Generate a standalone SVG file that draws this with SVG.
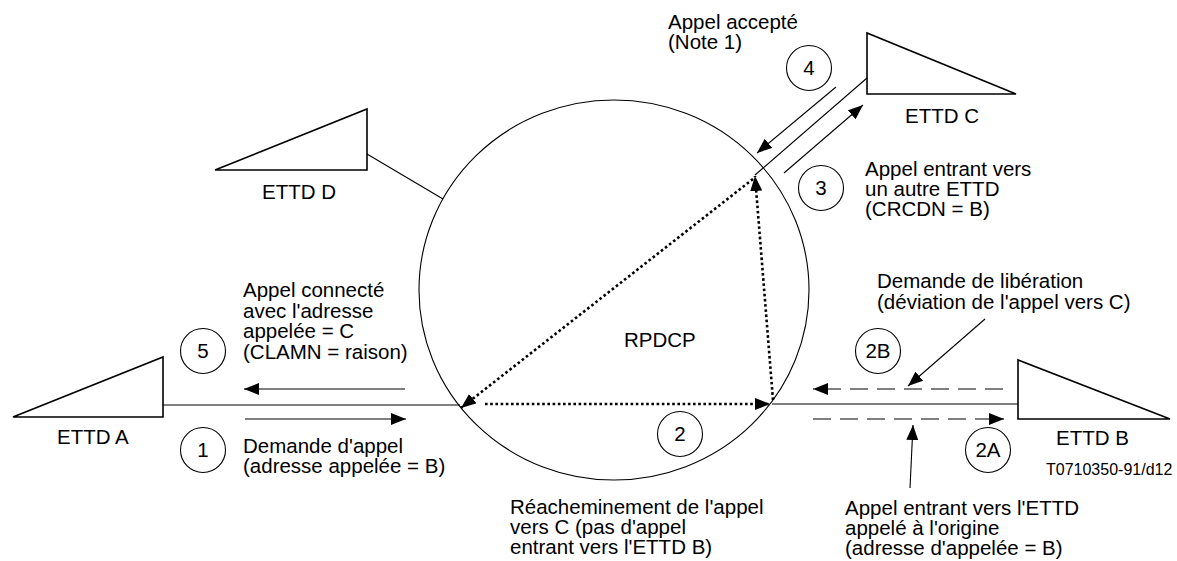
<svg xmlns="http://www.w3.org/2000/svg" width="1177" height="561" viewBox="0 0 1177 561">
<style>
text{font-family:"Liberation Sans",Arial,sans-serif;font-size:20.5px;fill:#000}
.small{font-size:16px}
.num{text-anchor:middle}
.tri{fill:none;stroke:#000;stroke-width:1.6;stroke-linejoin:miter}
.ln{fill:none;stroke:#000;stroke-width:1.1}
.dash{fill:none;stroke:#000;stroke-width:1.1;stroke-dasharray:18 9}
.dot{fill:none;stroke:#000;stroke-width:2.6;stroke-dasharray:2.6 2.6}
.bub{fill:none;stroke:#000;stroke-width:1.1}
</style>
<defs>
<marker id="ah" markerUnits="userSpaceOnUse" markerWidth="16" markerHeight="12" refX="15" refY="6" orient="auto">
<path d="M0,0 L15,6 L0,12 z" fill="#000"/>
</marker>
</defs>
<rect width="1177" height="561" fill="#fff"/>

<g id="network">
<ellipse cx="614" cy="290" rx="195" ry="190" class="bub"/>
<text x="624" y="347">RPDCP</text>
</g>

<g id="ettd-a">
<polygon points="13,417 163,357 163,417" class="tri"/>
<text x="57" y="444">ETTD A</text>
</g>
<g id="ettd-b">
<polygon points="1018,360 1018,419 1170,419" class="tri"/>
<text x="1056" y="445">ETTD B</text>
</g>
<g id="ettd-c">
<polygon points="867,33 867,94 1016,94" class="tri"/>
<text x="905" y="123">ETTD C</text>
</g>
<g id="ettd-d">
<polygon points="215,170 367,109 367,170" class="tri"/>
<text x="262" y="199">ETTD D</text>
</g>

<g id="connectors">
<line x1="367" y1="154" x2="443" y2="199" class="ln"/>
<line x1="163" y1="405" x2="460" y2="405" class="ln"/>
<line x1="772" y1="404" x2="1018" y2="404" class="ln"/>
<line x1="867" y1="78" x2="755" y2="175" class="ln"/>

<line x1="405" y1="389" x2="244" y2="389" class="ln" marker-end="url(#ah)"/>
<line x1="245" y1="419" x2="406" y2="419" class="ln" marker-end="url(#ah)"/>
<line x1="836" y1="87" x2="757" y2="153" class="ln" marker-end="url(#ah)"/>
<line x1="784" y1="173" x2="863" y2="105" class="ln" marker-end="url(#ah)"/>

<line x1="1003" y1="389" x2="813" y2="389" class="dash" marker-end="url(#ah)"/>
<line x1="813" y1="419" x2="1004" y2="419" class="dash" marker-end="url(#ah)"/>
<line x1="985" y1="319" x2="908" y2="386" class="ln" marker-end="url(#ah)"/>
<line x1="910" y1="488" x2="913" y2="425" class="ln" marker-end="url(#ah)"/>

<line x1="753" y1="179" x2="461" y2="408" class="dot" marker-end="url(#ah)"/>
<line x1="485" y1="404" x2="770" y2="404" class="dot" marker-end="url(#ah)"/>
<line x1="773" y1="400" x2="755" y2="176" class="dot" marker-end="url(#ah)"/>
</g>

<g id="step-1">
<circle cx="203" cy="450" r="22.5" class="bub"/>
<text x="203" y="457" class="num">1</text>
<text x="243" y="453">Demande d'appel</text>
<text x="243" y="473">(adresse appelée = B)</text>
</g>
<g id="step-2">
<circle cx="680" cy="434" r="22.5" class="bub"/>
<text x="680" y="441" class="num">2</text>
<text x="510" y="514">Réacheminement de l'appel</text>
<text x="510" y="534">vers C (pas d'appel</text>
<text x="510" y="554">entrant vers l'ETTD B)</text>
</g>
<g id="step-2a">
<circle cx="988" cy="450" r="22.5" class="bub"/>
<text x="988" y="457" class="num">2A</text>
<text x="845" y="515">Appel entrant vers l'ETTD</text>
<text x="845" y="535">appelé à l'origine</text>
<text x="845" y="555">(adresse d'appelée = B)</text>
</g>
<g id="step-2b">
<circle cx="878" cy="351" r="22.5" class="bub"/>
<text x="878" y="358" class="num">2B</text>
<text x="877" y="288">Demande de libération</text>
<text x="877" y="309">(déviation de l'appel vers C)</text>
</g>
<g id="step-3">
<circle cx="821" cy="188" r="22.5" class="bub"/>
<text x="821" y="195" class="num">3</text>
<text x="865" y="176">Appel entrant vers</text>
<text x="865" y="196">un autre ETTD</text>
<text x="865" y="216">(CRCDN = B)</text>
</g>
<g id="step-4">
<circle cx="809" cy="68" r="22.5" class="bub"/>
<text x="809" y="75" class="num">4</text>
<text x="668" y="29">Appel accepté</text>
<text x="668" y="49">(Note 1)</text>
</g>
<g id="step-5">
<circle cx="203" cy="351" r="22.5" class="bub"/>
<text x="203" y="358" class="num">5</text>
<text x="243" y="297">Appel connecté</text>
<text x="243" y="318">avec l'adresse</text>
<text x="243" y="338">appelée = C</text>
<text x="243" y="359">(CLAMN = raison)</text>
</g>

<text x="1046" y="475" class="small">T0710350-91/d12</text>
</svg>
